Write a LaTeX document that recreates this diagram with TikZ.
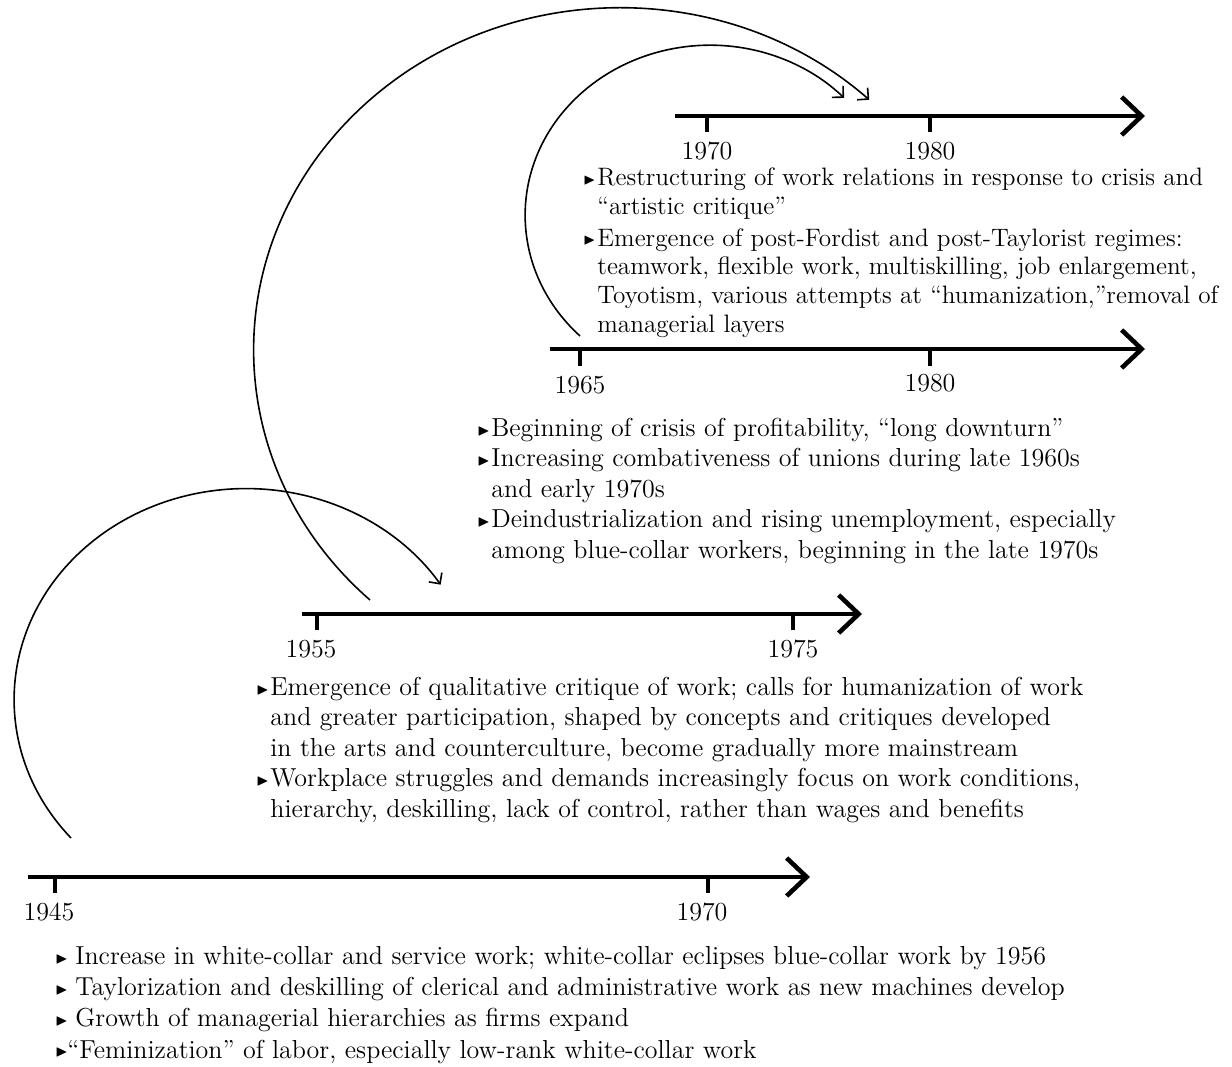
\documentclass[tikz,border=0pt]{standalone}
\usepackage{amssymb}
\usepackage{graphicx}
\usetikzlibrary{positioning}
\usetikzlibrary{arrows.meta}

\newcommand{\tri}{\raisebox{.12ex}{\scalebox{.62}{$\blacktriangleright$}}}
\newcommand{\itm}[1][7pt]{\makebox[#1][l]{\tri}}
\newcommand{\ind}{\hspace*{7pt}}

\begin{document}
\begin{tikzpicture}[x=0.5pt,y={(0,-0.5pt)},
  axis/.style={line width=2.3pt,-{Straight Barb[length=10pt,width=19pt]}},
  tick/.style={line width=2.3pt},
  year/.style={below,inner sep=0pt,yshift=-4pt,font=\fontsize{13}{15}\selectfont},
  hop/.style={line width=0.8pt,-{Straight Barb[length=4pt,width=8pt]}},
  notes/.style={anchor=base west,align=left,inner sep=0pt,font=\fontsize{13}{15.2}\selectfont}]
  \useasboundingbox (0,0) rectangle (1232,1066);

  % timelines
  \coordinate (a1970) at (675,116);  \coordinate (b1970) at (1145,116);
  \coordinate (a1965) at (550,349);  \coordinate (b1965) at (1145,349);
  \coordinate (a1955) at (302,614);  \coordinate (b1955) at (862,614);
  \coordinate (a1945) at (28,877);   \coordinate (b1945) at (810,877);
  \draw[axis] (a1970) -- (b1970);
  \draw[axis] (a1965) -- (b1965);
  \draw[axis] (a1955) -- (b1955);
  \draw[axis] (a1945) -- (b1945);

  \draw[tick] (707,116) -- ++(0,16) node[year] (y1970) {1970};
  \draw[tick] (930,116) -- ++(0,16) node[year] (y1980) {1980};
  \draw[tick] (580,349) -- ++(0,17) node[year] (y1965) {1965};
  \draw[tick] (930,349) -- ++(0,17) node[year,yshift=1pt] (y1980b) {1980};
  \draw[tick] (317,614) -- ++(0,16) node[year,xshift=-3pt] (y1955) {1955};
  \draw[tick] (793,614) -- ++(0,16) node[year] (y1975) {1975};
  \draw[tick] (55,877) -- ++(0,16) node[year,xshift=-3pt] (y1945) {1945};
  \draw[tick] (708,877) -- ++(0,16) node[year,xshift=-3pt] (y1970b) {1970};

  % notes (anchored at the baseline of their last line)
  \node (n1970) [notes,font=\fontsize{12.6}{14.3}\selectfont] at (583,332) {\itm Restructuring of work relations in response to crisis and\\
    \ind “artistic critique”\\[1.6pt]
    \itm Emergence of post-Fordist and post-Taylorist regimes:\\
    \ind teamwork, flexible work, multiskilling, job enlargement,\\
    \ind Toyotism, various attempts at “humanization,”removal of\\
    \ind managerial layers};
  \node (n1965) [notes] at (477,558) {\itm Beginning of crisis of profitability, “long downturn”\\
    \itm Increasing combativeness of unions during late 1960s\\
    \ind and early 1970s\\
    \itm Deindustrialization and rising unemployment, especially\\
    \ind among blue-collar workers, beginning in the late 1970s};
  \node (n1955) [notes] at (256,817) {\itm Emergence of qualitative critique of work; calls for humanization of work\\
    \ind and greater participation, shaped by concepts and critiques developed\\
    \ind in the arts and counterculture, become gradually more mainstream\\
    \itm Workplace struggles and demands increasingly focus on work conditions,\\
    \ind hierarchy, deskilling, lack of control, rather than wages and benefits};
  \node (n1945) [notes,font=\fontsize{13}{15.6}\selectfont] at (55,1058) {\itm[10pt]Increase in white-collar and service work; white-collar eclipses blue-collar work by 1956\\
    \itm[10pt]Taylorization and deskilling of clerical and administrative work as new machines develop\\
    \itm[10pt]Growth of managerial hierarchies as firms expand\\
    \itm[6pt]“Feminization” of labor, especially low-rank white-collar work};

  % hops between periods
  \coordinate (s1945) at (71,838);
  \coordinate (s1955) at (370,600);
  \coordinate (s1965) at (580,336);
  \draw[hop] (s1945) arc[start angle=139,end angle=327,x radius=232,y radius=211];
  \draw[hop] (s1955) arc[start angle=133,end angle=313,x radius=366,y radius=342];
  \draw[hop] (s1965) arc[start angle=134.7,end angle=316.4,x radius=185,y radius=170];
\end{tikzpicture}
\end{document}
